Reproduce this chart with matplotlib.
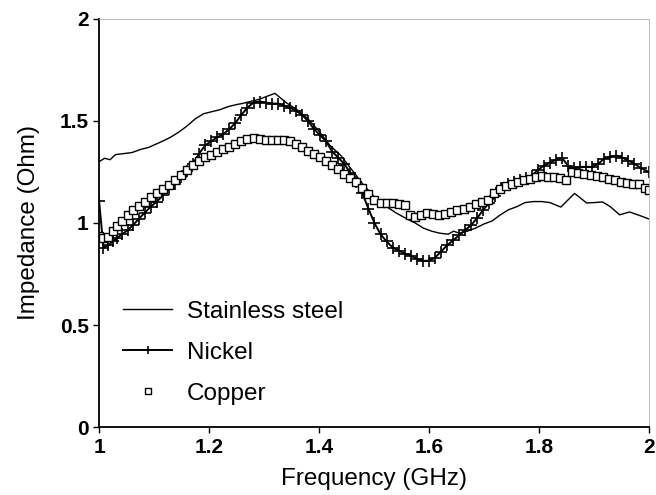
import matplotlib
matplotlib.use("Agg")
import matplotlib.pyplot as plt

plt.rcParams['font.family'] = ['Liberation Sans', 'DejaVu Sans']

# Stainless steel (linea fina)
steel_f = [1.000, 1.010, 1.020, 1.030, 1.045, 1.060, 1.075, 1.090, 1.100, 1.115,
           1.130, 1.145, 1.160, 1.175, 1.190, 1.205, 1.220, 1.235, 1.250, 1.260,
           1.275, 1.290, 1.305, 1.320, 1.340, 1.360, 1.380, 1.400, 1.420, 1.440,
           1.460, 1.480, 1.500, 1.520, 1.540, 1.560, 1.575, 1.590, 1.605, 1.620,
           1.635, 1.645, 1.655, 1.670, 1.685, 1.700, 1.715, 1.730, 1.745, 1.760,
           1.775, 1.790, 1.805, 1.820, 1.840, 1.865, 1.887, 1.900, 1.916, 1.930,
           1.947, 1.965, 1.980, 2.000]
steel_z = [1.300, 1.317, 1.310, 1.335, 1.340, 1.345, 1.360, 1.370, 1.382, 1.400,
           1.420, 1.445, 1.475, 1.510, 1.535, 1.545, 1.555, 1.570, 1.580, 1.585,
           1.595, 1.605, 1.620, 1.635, 1.590, 1.555, 1.510, 1.450, 1.380, 1.330,
           1.260, 1.190, 1.130, 1.085, 1.050, 1.020, 1.000, 0.975, 0.960, 0.950,
           0.945, 0.960, 0.950, 0.960, 0.975, 0.995, 1.010, 1.040, 1.065, 1.080,
           1.100, 1.105, 1.105, 1.100, 1.078, 1.145, 1.098, 1.100, 1.103, 1.080,
           1.040, 1.054, 1.040, 1.020]

# Nickel (linea con cruces)
nickel_f = [1.000, 1.008, 1.016, 1.025, 1.033, 1.042, 1.052, 1.062, 1.072, 1.083,
            1.094, 1.105, 1.116, 1.127, 1.138, 1.149, 1.160, 1.171, 1.182, 1.193,
            1.204, 1.215, 1.226, 1.237, 1.248, 1.259, 1.270, 1.281, 1.292, 1.303,
            1.314, 1.325, 1.336, 1.347, 1.358, 1.369, 1.380, 1.391, 1.402, 1.413,
            1.424, 1.435, 1.446, 1.457, 1.468, 1.479, 1.490, 1.501, 1.512, 1.523,
            1.534, 1.545, 1.556, 1.567, 1.578, 1.589, 1.600, 1.611, 1.622, 1.633,
            1.644, 1.655, 1.666, 1.677, 1.688, 1.699, 1.710, 1.721, 1.732, 1.743,
            1.754, 1.765, 1.776, 1.787, 1.798, 1.809, 1.820, 1.831, 1.842, 1.853,
            1.864, 1.875, 1.886, 1.897, 1.908, 1.919, 1.930, 1.941, 1.952, 1.963,
            1.974, 1.985, 2.000]
nickel_z = [1.110, 0.880, 0.890, 0.910, 0.927, 0.945, 0.965, 0.990, 1.020, 1.050,
            1.080, 1.105, 1.135, 1.165, 1.190, 1.225, 1.255, 1.290, 1.340, 1.380,
            1.400, 1.420, 1.435, 1.460, 1.490, 1.530, 1.565, 1.590, 1.595, 1.590,
            1.585, 1.585, 1.575, 1.565, 1.550, 1.530, 1.500, 1.460, 1.430, 1.400,
            1.350, 1.320, 1.290, 1.245, 1.200, 1.145, 1.070, 1.000, 0.945, 0.910,
            0.880, 0.865, 0.850, 0.840, 0.825, 0.815, 0.815, 0.830, 0.860, 0.890,
            0.915, 0.940, 0.965, 0.990, 1.025, 1.065, 1.100, 1.130, 1.170, 1.190,
            1.200, 1.210, 1.220, 1.230, 1.260, 1.280, 1.295, 1.310, 1.320, 1.280,
            1.270, 1.275, 1.275, 1.275, 1.290, 1.315, 1.325, 1.330, 1.320, 1.305,
            1.290, 1.270, 1.250]

# Copper (solo cuadros)
copper_f = [1.000, 1.008, 1.016, 1.025, 1.033, 1.042, 1.052, 1.062, 1.072, 1.083,
            1.094, 1.105, 1.116, 1.127, 1.138, 1.149, 1.160, 1.171, 1.182, 1.193,
            1.204, 1.215, 1.226, 1.237, 1.248, 1.259, 1.270, 1.281, 1.292, 1.303,
            1.314, 1.325, 1.336, 1.347, 1.358, 1.369, 1.380, 1.391, 1.402, 1.413,
            1.424, 1.435, 1.446, 1.457, 1.468, 1.479, 1.490, 1.501, 1.512, 1.523,
            1.534, 1.545, 1.556, 1.565, 1.575, 1.586, 1.597, 1.608, 1.619, 1.630,
            1.641, 1.652, 1.663, 1.674, 1.685, 1.696, 1.707, 1.718, 1.729, 1.740,
            1.751, 1.762, 1.773, 1.784, 1.795, 1.806, 1.817, 1.828, 1.839, 1.850,
            1.861, 1.872, 1.883, 1.894, 1.905, 1.916, 1.927, 1.938, 1.949, 1.960,
            1.971, 1.982, 1.993, 2.000]
copper_z = [0.935, 0.925, 0.930, 0.960, 0.985, 1.010, 1.040, 1.065, 1.085, 1.105,
            1.125, 1.145, 1.165, 1.185, 1.210, 1.235, 1.260, 1.285, 1.305, 1.325,
            1.335, 1.350, 1.360, 1.372, 1.385, 1.400, 1.410, 1.415, 1.412, 1.405,
            1.405, 1.407, 1.405, 1.400, 1.385, 1.370, 1.355, 1.340, 1.325, 1.305,
            1.285, 1.265, 1.240, 1.220, 1.200, 1.170, 1.140, 1.115, 1.100, 1.100,
            1.100, 1.095, 1.090, 1.040, 1.030, 1.040, 1.050, 1.045, 1.040, 1.045,
            1.055, 1.065, 1.070, 1.080, 1.095, 1.105, 1.115, 1.145, 1.165, 1.180,
            1.190, 1.200, 1.210, 1.215, 1.225, 1.230, 1.225, 1.225, 1.220, 1.210,
            1.250, 1.245, 1.240, 1.235, 1.230, 1.225, 1.215, 1.210, 1.200, 1.195,
            1.190, 1.190, 1.170, 1.160]

x_ticks = [1, 1.2, 1.4, 1.6, 1.8, 2]
x_labels = ["1", "1.2", "1.4", "1.6", "1.8", "2"]
y_ticks = [0, 0.5, 1, 1.5, 2]
y_labels = ["0", "0.5", "1", "1.5", "2"]

fig = plt.figure(figsize=(6.56, 4.95), dpi=100)
ax = fig.add_axes([0.151, 0.137, 0.838, 0.825])

ax.plot(steel_f, steel_z, color="black", lw=1.0, label="Stainless steel")
ax.plot(nickel_f, nickel_z, color="black", lw=1.4, marker="+", ms=8, mew=1.2,
        label="Nickel")
ax.plot(copper_f, copper_z, ls="none", marker="s", ms=6, mfc="white", mec="black",
        mew=1.0, label="Copper")

ax.set_xlim(1, 2)
ax.set_ylim(0, 2)
ax.set_xticks(x_ticks)
ax.set_xticklabels(x_labels)
ax.set_yticks(y_ticks)
ax.set_yticklabels(y_labels)
ax.tick_params(direction="out", length=4, width=1, labelsize=15, colors="black")
ax.tick_params(axis="x", pad=4)
for lbl in ax.get_xticklabels() + ax.get_yticklabels():
    lbl.set_fontweight("bold")

ax.set_xlabel("Frequency (GHz)", fontsize=17.5, labelpad=8)
ax.set_ylabel("Impedance (Ohm)", fontsize=17.5, labelpad=14)

ax.spines["left"].set_linewidth(1.3)
ax.spines["bottom"].set_linewidth(1.3)
ax.spines["top"].set_color("0.7")
ax.spines["top"].set_linewidth(0.6)
ax.spines["right"].set_color("0.7")
ax.spines["right"].set_linewidth(0.6)

leg = ax.legend(loc="upper left", bbox_to_anchor=(0.044, 0.31), frameon=False,
                fontsize=17.5, handlelength=2.0, handletextpad=0.62,
                labelspacing=0.78, borderpad=0, borderaxespad=0, markerscale=0.7)

fig.savefig("out.png", dpi=100)
